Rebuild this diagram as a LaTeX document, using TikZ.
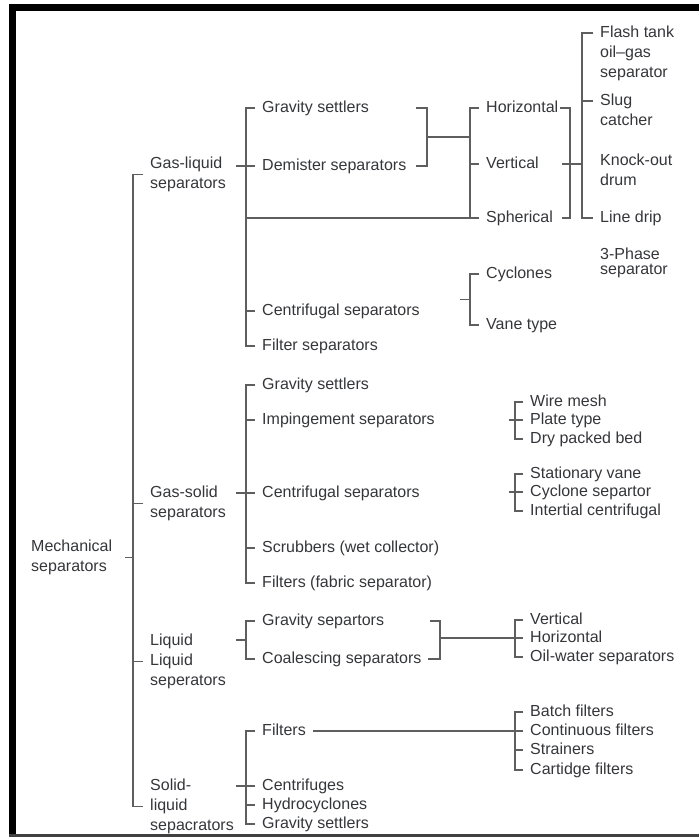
\documentclass[tikz,border=0pt]{standalone}
\usepackage{fontspec}
\setmainfont{Liberation Sans}
\usepackage{tikz}
\usetikzlibrary{calc}
\usepackage{xcolor}
\definecolor{mytext}{HTML}{35363A}
\definecolor{myline}{HTML}{5E5E5E}
\tikzset{every text node part/.style={align=left, font={\fontsize{12}{15}\selectfont}}}
\tikzstyle{lbl} = [anchor=west, inner xsep=5pt, inner ysep=0pt, text=mytext, text height=8.6pt, text depth=2.4pt]
\tikzstyle{mlbl} = [anchor=north west, inner xsep=5pt, inner ysep=0pt, text=mytext]

\begin{document}
\begin{tikzpicture}[x=0.75pt, y=-0.75pt,
    branch/.style={draw=myline, line width=1.1pt}
  ]
  \useasboundingbox (0,0) rectangle (699,838);

  % Define frame
  \fill[black] (9,4) rectangle (16,836);
  \fill[black] (9,4) rectangle (699,11);
  \fill[black!75] (9,834) rectangle (699,836.5);

  % Define spines
  \coordinate (trunk) at (133,0);
  \coordinate (s1) at (246,0);
  \coordinate (gdjoin) at (427,0);
  \coordinate (hvs) at (470,0);
  \coordinate (hvsout) at (570,0);
  \coordinate (types) at (582,0);
  \coordinate (lljoin) at (440,0);
  \coordinate (sub) at (515,0);

  % Define root and main groups
  \node[mlbl] (mech) at (24.3,539.7) {Mechanical\\separators};
  \node[mlbl] (gasliq) at (143.3,156.7) {Gas-liquid\\separators};
  \node[mlbl] (gassol) at (143.3,485.7) {Gas-solid\\separators};
  \node[mlbl] (liqliq) at (143.3,633.7) {Liquid\\Liquid\\seperators};
  \node[mlbl] (solliq) at (143.3,778.7) {Solid-\\liquid\\sepacrators};

  % Define gas-liquid branch
  \node[lbl] (gl_grav) at (255.3,108) {Gravity settlers};
  \node[lbl] (gl_dem) at (255.3,166) {Demister separators};
  \node[lbl] (gl_cen) at (255.3,311) {Centrifugal separators};
  \node[lbl] (gl_fil) at (255.3,346) {Filter separators};
  \node[lbl] (hor) at (479.3,108) {Horizontal};
  \node[lbl] (ver) at (479.3,164) {Vertical};
  \node[lbl] (sph) at (479.3,218) {Spherical};
  \node[lbl] (cyc) at (479.3,274) {Cyclones};
  \node[lbl] (vane) at (479.3,325) {Vane type};
  \node[mlbl] (flash) at (593.3,25.7) {Flash tank\\oil--gas\\separator};
  \node[mlbl] (slug) at (593.3,93.7) {Slug\\catcher};
  \node[mlbl] (knock) at (593.3,153.7) {Knock-out\\drum};
  \node[lbl] (drip) at (593.3,218) {Line drip};
  \node[mlbl] (three) at (593.3,247.7) {3-Phase\\[-3.75pt]separator};

  % Define gas-solid branch
  \node[lbl] (gs_grav) at (255.3,385) {Gravity settlers};
  \node[lbl] (gs_imp) at (255.3,420) {Impingement separators};
  \node[lbl] (gs_cen) at (255.3,493) {Centrifugal separators};
  \node[lbl] (gs_scr) at (255.3,548) {Scrubbers (wet collector)};
  \node[lbl] (gs_fil) at (255.3,583) {Filters (fabric separator)};
  \node[lbl] (wire) at (523.3,402) {Wire mesh};
  \node[lbl] (plate) at (523.3,420) {Plate type};
  \node[lbl] (dry) at (523.3,439) {Dry packed bed};
  \node[lbl] (stat) at (523.3,474) {Stationary vane};
  \node[lbl] (cycsep) at (523.3,492) {Cyclone separtor};
  \node[lbl] (inert) at (523.3,511) {Intertial centrifugal};

  % Define liquid-liquid branch
  \node[lbl] (ll_grav) at (255.3,621) {Gravity separtors};
  \node[lbl] (ll_coal) at (255.3,659) {Coalescing separators};
  \node[lbl] (lver) at (523.3,620) {Vertical};
  \node[lbl] (lhor) at (523.3,638) {Horizontal};
  \node[lbl] (oilw) at (523.3,657) {Oil-water separators};

  % Define solid-liquid branch
  \node[lbl] (sl_fil) at (255.3,731) {Filters};
  \node[lbl] (sl_cen) at (255.3,786) {Centrifuges};
  \node[lbl] (sl_hyd) at (255.3,805) {Hydrocyclones};
  \node[lbl] (sl_grav) at (255.3,824) {Gravity settlers};
  \node[lbl] (batch) at (523.3,712) {Batch filters};
  \node[lbl] (cont) at (523.3,731) {Continuous filters};
  \node[lbl] (strain) at (523.3,750) {Strainers};
  \node[lbl] (cart) at (523.3,770) {Cartidge filters};

  % Define join points
  \coordinate (gdmid) at ($(gl_grav.west)!.5!(gl_dem.west)$);
  \coordinate (cvmid) at ($(cyc.west)!.5!(vane.west)$);
  \coordinate (llmid) at ($(ll_grav.west)!.5!(ll_coal.west)$);
  \coordinate (flash_t) at ($(flash.north west)+(0,7.3)$);
  \coordinate (slug_t) at ($(slug.north west)+(0,7.3)$);

  % Draw trunk
  \draw[branch] ($(trunk |- mech.east)+(-8,0)$) -- (trunk |- mech.east);
  \draw[branch] (gasliq.west) -| (trunk |- solliq.west) -- (solliq.west);
  \draw[branch] (trunk |- gassol.west) -- (gassol.west);
  \draw[branch] (trunk |- liqliq.west) -- (liqliq.west);

  % Draw gas-liquid lines
  \draw[branch] (gl_grav.west) -| (s1 |- gl_fil.west) -- (gl_fil.west);
  \draw[branch] ($(s1 |- gl_dem.west)+(-10,0)$) -- (gl_dem.west);
  \draw[branch] (s1 |- gl_cen.west) -- (gl_cen.west);
  \draw[branch] (s1 |- sph.west) -- (sph.west);
  \draw[branch] ($(gdjoin |- gl_grav.west)+(-11,0)$) -| (gdjoin |- gl_dem.west) -- ++(-11,0);
  \draw[branch] (gdjoin |- gdmid) -- (hvs |- gdmid);
  \draw[branch] (hor.west) -| (hvs |- sph.west);
  \draw[branch] (hvs |- ver.west) -- (ver.west);
  \draw[branch] ($(hvsout |- hor.west)+(-10,0)$) -| (hvsout |- sph.west) -- ++(-8,0);
  \draw[branch] ($(hvsout |- ver.west)+(-8,0)$) -- (types |- ver.west);
  \draw[branch] (flash_t) -| (types |- drip.west) -- (drip.west);
  \draw[branch] (types |- slug_t) -- (slug_t);
  \draw[branch] (cyc.west) -| (hvs |- vane.west) -- (vane.west);
  \draw[branch] ($(hvs |- cvmid)+(-10,0)$) -- (hvs |- cvmid);

  % Draw gas-solid lines
  \draw[branch] (gs_grav.west) -| (s1 |- gs_fil.west) -- (gs_fil.west);
  \draw[branch] ($(s1 |- gs_cen.west)+(-10,0)$) -- (gs_cen.west);
  \draw[branch] (s1 |- gs_imp.west) -- (gs_imp.west);
  \draw[branch] (s1 |- gs_scr.west) -- (gs_scr.west);
  \draw[branch] (wire.west) -| (sub |- dry.west) -- (dry.west);
  \draw[branch] ($(sub |- plate.west)+(-6,0)$) -- (plate.west);
  \draw[branch] (stat.west) -| (sub |- inert.west) -- (inert.west);
  \draw[branch] ($(sub |- cycsep.west)+(-6,0)$) -- (cycsep.west);

  % Draw liquid-liquid lines
  \draw[branch] (ll_grav.west) -| (s1 |- ll_coal.west) -- (ll_coal.west);
  \draw[branch] ($(s1 |- llmid)+(-10,0)$) -- (s1 |- llmid);
  \draw[branch] ($(lljoin |- ll_grav.west)+(-10,0)$) -| (lljoin |- ll_coal.west) -- ++(-12,0);
  \draw[branch] (lljoin |- lhor.west) -- (lhor.west);
  \draw[branch] (lver.west) -| (sub |- oilw.west) -- (oilw.west);

  % Draw solid-liquid lines
  \draw[branch] (sl_fil.west) -| (s1 |- sl_grav.west) -- (sl_grav.west);
  \draw[branch] ($(s1 |- sl_cen.west)+(-10,0)$) -- (sl_cen.west);
  \draw[branch] (s1 |- sl_hyd.west) -- (sl_hyd.west);
  \draw[branch] (sl_fil.east) -- (cont.west);
  \draw[branch] (batch.west) -| (sub |- cart.west) -- (cart.west);
  \draw[branch] (sub |- strain.west) -- (strain.west);

\end{tikzpicture}
\end{document}
